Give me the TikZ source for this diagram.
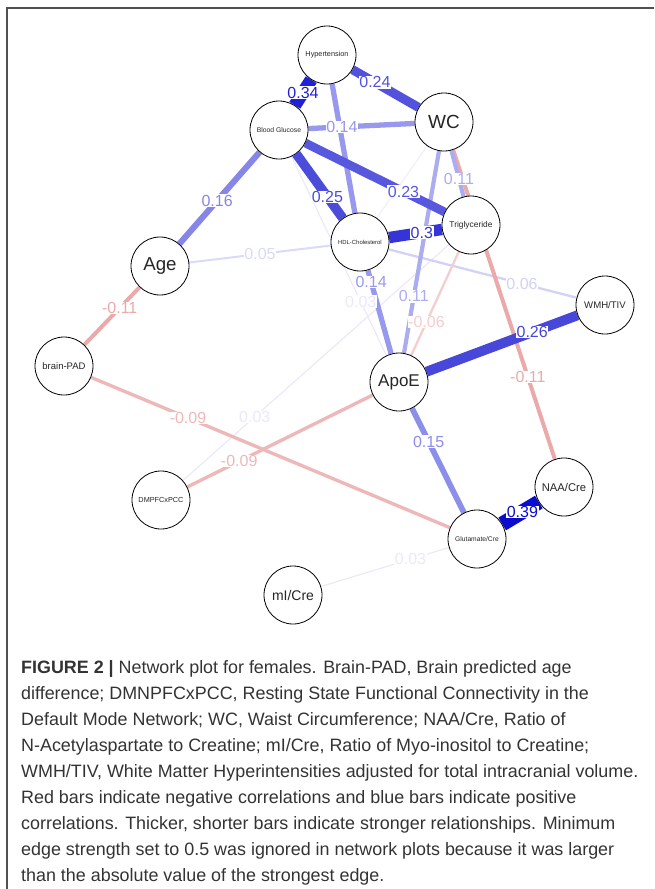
\documentclass[tikz,border=0pt]{standalone}
\usepackage{fontspec}
\setmainfont{Liberation Sans}
\newcommand\fsz[1]{\fontsize{#1}{#1}\selectfont}
\definecolor{p39}{HTML}{0C0CCE}
\definecolor{p34}{HTML}{2020D8}
\definecolor{p30}{HTML}{3434D9}
\definecolor{p26}{HTML}{4747DA}
\definecolor{p25}{HTML}{4C4CDB}
\definecolor{p24}{HTML}{5252DC}
\definecolor{p23}{HTML}{5858DE}
\definecolor{p16}{HTML}{8686E8}
\definecolor{p15}{HTML}{8D8DEA}
\definecolor{p14}{HTML}{9898EC}
\definecolor{p11}{HTML}{ACACF1}
\definecolor{p06}{HTML}{D2D2F8}
\definecolor{p05}{HTML}{DADAF9}
\definecolor{p03}{HTML}{E9E9FC}
\definecolor{p01}{HTML}{F0F0FC}
\definecolor{n11}{HTML}{EAAAAA}
\definecolor{n09}{HTML}{EEB8B8}
\definecolor{n06}{HTML}{F4CECE}
\definecolor{captxt}{HTML}{333333}
\definecolor{framec}{HTML}{505050}
\pgfdeclarelayer{edgelayer}
\pgfsetlayers{edgelayer,main}
\tikzset{
  vn/.style={circle, draw=black, line width=0.8pt, fill=white, minimum size=58pt, inner sep=0pt, text=black!85},
  ed/.style={line cap=butt},
  el/.style={fill=white, inner sep=0.6pt, font=\fsz{16}},
  capl/.style={anchor=base west, inner sep=0pt, text=captxt, font=\fsz{17.9}}
}
\begin{document}
\begin{tikzpicture}[x=1pt,y=-1pt]
\useasboundingbox (0,0) rectangle (654,889);
\draw[framec, line width=1.3pt] (7,889) -- (7,8) -- (654,8);

% vertices
\node[vn, font=\fsz{7.3}]  (hyp)  at (327,55)  {Hypertension};
\node[vn, font=\fsz{19}]   (wc)   at (444,122) {WC};
\node[vn, font=\fsz{6.8}]  (bg)   at (279,130) {Blood Glucose};
\node[vn, font=\fsz{5.9}]  (hdl)  at (360,242) {HDL-Cholesterol};
\node[vn, font=\fsz{8.4}]  (tri)  at (471,225) {Triglyceride};
\node[vn, font=\fsz{18.7}] (age)  at (160,266) {Age};
\node[vn, font=\fsz{9.6}]  (wmh)  at (605,305) {WMH/TIV};
\node[vn, font=\fsz{9.5}]  (bpad) at (64,366)  {brain-PAD};
\node[vn, font=\fsz{17}]   (apoe) at (399,382) {ApoE};
\node[vn, font=\fsz{7.3}]  (dmp)  at (161,500) {DMPFCxPCC};
\node[vn, font=\fsz{11.2}] (naa)  at (564,487) {NAA/Cre};
\node[vn, font=\fsz{6.7}]  (glu)  at (477,539) {Glutamate/Cre};
\node[vn, font=\fsz{14}]   (mi)   at (293,595) {mI/Cre};

\begin{pgfonlayer}{edgelayer}
% edge lines, weak to strong
\draw[ed, p01, line width=1.2pt] (wc) -- (hdl);
\draw[ed, p03, line width=1.2pt] (glu) -- (mi);
\draw[ed, p03, line width=1.2pt] (dmp) -- (tri);
\draw[ed, p03, line width=1.2pt] (bg) -- (apoe);
\draw[ed, p05, line width=2pt] (age) -- (hdl);
\draw[ed, p06, line width=2.3pt] (hdl) -- (wmh);
\draw[ed, n06, line width=2.3pt] (tri) -- (apoe);
\draw[ed, n09, line width=3.4pt] (bpad) -- (glu);
\draw[ed, n09, line width=3.4pt] (dmp) -- (apoe);
\draw[ed, n11, line width=4pt] (age) -- (bpad);
\draw[ed, n11, line width=4pt] (wc) -- (naa);
\draw[ed, p11, line width=4.2pt] (wc) -- (tri);
\draw[ed, p11, line width=4.2pt] (wc) -- (apoe);
\draw[ed, p14, line width=5.3pt] (hyp) -- (hdl);
\draw[ed, p14, line width=5.3pt] (bg) -- (wc);
\draw[ed, p14, line width=5.3pt] (hdl) -- (apoe);
\draw[ed, p15, line width=5.7pt] (apoe) -- (glu);
\draw[ed, p16, line width=6.1pt] (bg) -- (age);
\draw[ed, p23, line width=8.7pt] (bg) -- (tri);
\draw[ed, p24, line width=9.1pt] (hyp) -- (wc);
\draw[ed, p25, line width=9.5pt] (bg) -- (hdl);
\draw[ed, p26, line width=9.9pt] (apoe) -- (wmh);
\draw[ed, p30, line width=11.4pt] (hdl) -- (tri);
\draw[ed, p34, line width=12.9pt] (hyp) -- (bg);
\draw[ed, p39, line width=14.8pt] (naa) -- (glu);

% edge labels
\path (glu) -- node[el, text=p03, pos=0.30] (l1) {0.03} (mi);
\path (dmp) -- node[el, text=p03, pos=0.27] (l2) {0.03} (tri);
\path (bg) -- node[el, text=p03, pos=0.73] (l3) {0.03} (apoe);
\path (age) -- node[el, text=p05, pos=0.5] (l4) {0.05} (hdl);
\path (hdl) -- node[el, text=p06, pos=0.71] (l5) {0.06} (wmh);
\path (tri) -- node[el, text=n06, pos=0.68] (l6) {-0.06} (apoe);
\path (bpad) -- node[el, text=n09, pos=0.27] (l7) {-0.09} (glu);
\path (dmp) -- node[el, text=n09, pos=0.28] (l8) {-0.09} (apoe);
\path (age) -- node[el, text=n11, pos=0.36] (l9) {-0.11} (bpad);
\path (wc) -- node[el, text=n11, pos=0.735] (l10) {-0.11} (naa);
\path (wc) -- node[el, text=p11, pos=0.62] (l11) {0.11} (tri);
\path (wc) -- node[el, text=p11, pos=0.72] (l12) {0.11} (apoe);
\path (bg) -- node[el, text=p14, pos=0.315] (l13) {0.14} (wc);
\path (hdl) -- node[el, text=p14, pos=0.14] (l14) {0.14} (apoe);
\path (apoe) -- node[el, text=p15, pos=0.32] (l15) {0.15} (glu);
\path (bg) -- node[el, text=p16, pos=0.53] (l16) {0.16} (age);
\path (bg) -- node[el, text=p23, pos=0.705] (l17) {0.23} (tri);
\path (hyp) -- node[el, text=p24, pos=0.34] (l18) {0.24} (wc);
\path (bg) -- node[el, text=p25, pos=0.67] (l19) {0.25} (hdl);
\path (apoe) -- node[el, text=p26, pos=0.70] (l20) {0.26} (wmh);
\path (hdl) -- node[el, text=p30, pos=0.62] (l21) {0.3} (tri);
\path (hyp) -- node[el, text=p34, pos=0.5] (l22) {0.34} (bg);
\path (naa) -- node[el, text=p39, pos=0.45] (l23) {0.39} (glu);
\end{pgfonlayer}

% caption
\node[capl] (c1) at (21,673) {\textbf{FIGURE 2 |} Network plot for females. Brain-PAD, Brain predicted age};
\node[capl] (c2) at (21,699) {difference; DMNPFCxPCC, Resting State Functional Connectivity in the};
\node[capl] (c3) at (21,725) {Default Mode Network; WC, Waist Circumference; NAA/Cre, Ratio of};
\node[capl] (c4) at (21,751) {N-Acetylaspartate to Creatine; mI/Cre, Ratio of Myo-inositol to Creatine;};
\node[capl] (c5) at (21,777) {WMH/TIV, White Matter Hyperintensities adjusted for total intracranial volume.};
\node[capl] (c6) at (21,803) {Red bars indicate negative correlations and blue bars indicate positive};
\node[capl] (c7) at (21,829) {correlations. Thicker, shorter bars indicate stronger relationships. Minimum};
\node[capl] (c8) at (21,855) {edge strength set to 0.5 was ignored in network plots because it was larger};
\node[capl] (c9) at (21,881) {than the absolute value of the strongest edge.};
\end{tikzpicture}
\end{document}
